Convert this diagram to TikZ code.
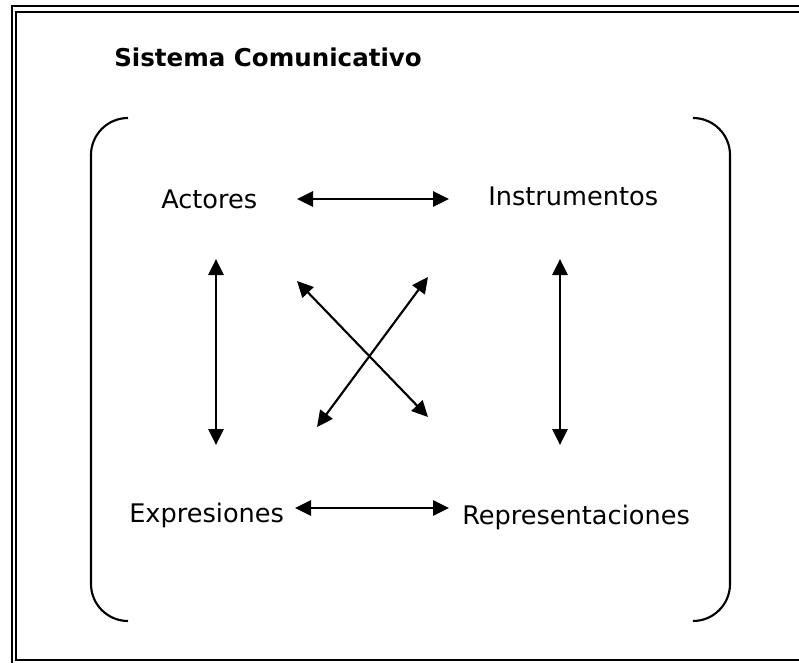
\documentclass[tikz,border=0pt]{standalone}
\usepackage{fontspec}
\setmainfont{DejaVu Sans}
\usetikzlibrary{arrows.meta}
\begin{document}
\begin{tikzpicture}[x=0.75pt,y=-0.75pt,
  frameline/.style={line width=1.8pt},
  bracket/.style={line width=1.6pt},
  lbl/.style={inner sep=0pt,anchor=base west,font=\fontsize{19.2}{23}\selectfont},
  ttl/.style={inner sep=0pt,anchor=base west,font=\fontsize{18.4}{22}\selectfont\bfseries},
  dbl/.style={line width=1.6pt,{Triangle[length=12pt,width=11.5pt]}-{Triangle[length=12pt,width=11.5pt]}}]
\useasboundingbox (0,0) rectangle (799,663);
% frame
\draw[frameline] (12,663) -- (12,6) -- (799,6);
\draw[frameline] (799,12) -- (16,12) -- (16,660) -- (799,660);
% brackets
\draw[bracket] (128,118) arc[start angle=270,end angle=180,radius=37] -- (91,584) arc[start angle=180,end angle=90,radius=37];
\draw[bracket] (693,118) arc[start angle=270,end angle=360,radius=37] -- (730,584) arc[start angle=0,end angle=90,radius=37];
% texts
\node[ttl] (title) at (114,67) {Sistema Comunicativo};
\node[lbl] (act) at (161,209) {Actores};
\node[lbl] (ins) at (488,205) {Instrumentos};
\node[lbl] (exp) at (129,522) {Expresiones};
\node[lbl] (rep) at (462,524) {Representaciones};
% arrow end points
\coordinate (t1) at (297,199);
\coordinate (t2) at (449,199);
\coordinate (b1) at (295,508);
\coordinate (b2) at (449,508);
\coordinate (l1) at (216,259);
\coordinate (l2) at (216,445);
\coordinate (r1) at (560,259);
\coordinate (r2) at (560,445);
\coordinate (d1) at (297,281);
\coordinate (d2) at (428,417);
\coordinate (e1) at (428,277);
\coordinate (e2) at (317,427);
\draw[dbl] (t1) -- (t2);
\draw[dbl] (b1) -- (b2);
\draw[dbl] (l1) -- (l2);
\draw[dbl] (r1) -- (r2);
\draw[dbl] (d1) -- (d2);
\draw[dbl] (e1) -- (e2);
\end{tikzpicture}
\end{document}
